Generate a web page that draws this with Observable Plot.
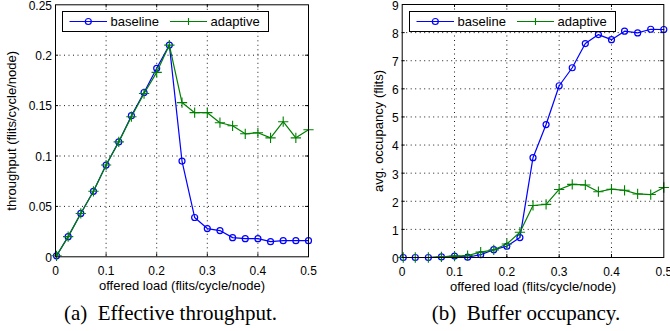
<!DOCTYPE html>
<html><head><meta charset="utf-8">
<script src="https://cdn.jsdelivr.net/npm/d3@7"></script>
<script src="https://cdn.jsdelivr.net/npm/@observablehq/plot@0.6"></script>
<style>
body{margin:0;background:#fff;}
#root{position:relative;width:670px;height:331px;overflow:hidden;background:#fff;}
.panel{position:absolute;top:0;}
.caption{position:absolute;top:302.5px;font-family:"Liberation Serif","Times New Roman",serif;font-size:21px;line-height:21px;white-space:nowrap;transform:translateX(-50%);color:#000;}
.legend{position:absolute;top:11px;}
</style></head><body><div id="root"></div>
<script>
// ---- data ----
const load = [0.002,0.025,0.05,0.075,0.1,0.125,0.15,0.175,0.2,0.225,0.25,0.275,0.3,0.325,0.35,0.375,0.4,0.425,0.45,0.475,0.5];
const thrBaseline = [0.001,0.020,0.043,0.065,0.091,0.114,0.140,0.163,0.187,0.210,0.095,0.039,0.028,0.026,0.019,0.018,0.018,0.015,0.016,0.016,0.016];
const thrAdaptive = [0.001,0.020,0.043,0.065,0.091,0.114,0.139,0.162,0.183,0.210,0.153,0.143,0.143,0.133,0.130,0.122,0.123,0.118,0.134,0.118,0.126];
const occBaseline = [0,0,0,0.02,0.05,0.01,0.10,0.28,0.40,0.71,3.55,4.73,6.11,6.75,7.61,7.93,7.75,8.05,7.99,8.12,8.11];
const occAdaptive = [0,0,0,0.02,0.05,0.07,0.19,0.27,0.48,0.90,1.85,1.89,2.42,2.60,2.58,2.34,2.43,2.39,2.26,2.24,2.49];
const xTicks = [0,0.1,0.2,0.3,0.4,0.5];
const yTicksThr = [0,0.05,0.1,0.15,0.2,0.25];
const yTicksOcc = [0,1,2,3,4,5,6,7,8,9];
const seriesNames = ["baseline","adaptive"];
const xLabel = "offered load (flits/cycle/node)";
const yLabelThr = "throughput (flits/cycle/node)";
const yLabelOcc = "avg. occupancy (flits)";
const captions = ["(a)\u2002Effective throughput.", "(b)\u2002Buffer occupancy."];

const BLUE = "#0000ff", GREEN = "#008000";

function panel(o) {
  const rows = load.map((x, i) => ({x, b: o.base[i], a: o.adap[i]}));
  const plotH = o.height - o.mt - o.mb;
  const plotW = o.width - o.ml - o.mr;
  const inner = xTicks.slice(1, -1);
  const innerY = o.yTicks.slice(1, -1);
  return Plot.plot({
    width: o.width, height: o.height,
    marginLeft: o.ml, marginRight: o.mr, marginTop: o.mt, marginBottom: o.mb,
    style: {fontFamily: '"Liberation Sans", Arial, sans-serif', fontSize: "12px", background: "transparent", color: "black", overflow: "visible"},
    x: {type: "linear", domain: [0, 0.5]},
    y: {type: "linear", domain: o.yDomain},
    marks: [
      Plot.gridX(inner, {stroke: "black", strokeOpacity: 1, strokeWidth: 0.9, strokeDasharray: "1,3.5"}),
      Plot.gridY(innerY, {stroke: "black", strokeOpacity: 1, strokeWidth: 0.9, strokeDasharray: "1,3.5"}),
      Plot.ruleX(inner, {insetTop: plotH - 3, stroke: "black"}),
      Plot.ruleX(inner, {insetBottom: plotH - 3, stroke: "black"}),
      Plot.ruleY(innerY, {insetRight: plotW - 3, stroke: "black"}),
      Plot.ruleY(innerY, {insetLeft: plotW - 3, stroke: "black"}),
      Plot.axisX(xTicks, {tickSize: 0, tickPadding: 9.5, fontSize: 12, label: null, tickFormat: d => String(d)}),
      Plot.axisY(o.yTicks, {tickSize: 0, tickPadding: 3.5, dy: o.yTickDy, fontSize: 12, label: null, tickFormat: d => String(d)}),
      Plot.text([xLabel], {text: d => d, frameAnchor: "bottom", dy: o.xLabelDy, lineAnchor: "bottom", fontSize: 13}),
      Plot.text([o.yLabel], {text: d => d, frameAnchor: "left", rotate: -90, textAnchor: "middle", lineAnchor: "bottom", dx: o.yLabelDx, fontSize: 13}),
      Plot.line(rows, {x: "x", y: "b", stroke: BLUE, strokeWidth: 1.2}),
      Plot.dot(rows, {x: "x", y: "b", r: 3, stroke: BLUE, strokeWidth: 1.2, fill: "none"}),
      Plot.line(rows, {x: "x", y: "a", stroke: GREEN, strokeWidth: 1.2}),
      Plot.dot(rows, {x: "x", y: "a", r: 3.4, symbol: "plus", stroke: GREEN, strokeWidth: 1.1}),
      Plot.frame({stroke: "black", strokeWidth: 1})
    ]
  });
}

function legend() {
  const ns = "http://www.w3.org/2000/svg";
  const svg = document.createElementNS(ns, "svg");
  svg.setAttribute("width", 207); svg.setAttribute("height", 21);
  svg.innerHTML = `
    <rect x="0.5" y="0.5" width="206" height="20" fill="white" stroke="black" stroke-width="1"/>
    <line x1="7.5" x2="45" y1="10.5" y2="10.5" stroke="${BLUE}" stroke-width="1.2"/>
    <circle cx="26.3" cy="10.5" r="3" fill="none" stroke="${BLUE}" stroke-width="1.2"/>
    <text x="48.5" y="15.3" font-family="Liberation Sans, Arial, sans-serif" font-size="13">${seriesNames[0]}</text>
    <line x1="108" x2="145" y1="10.5" y2="10.5" stroke="${GREEN}" stroke-width="1.2"/>
    <path d="M123.1,10.5h6.8M126.5,7.1v6.8" stroke="${GREEN}" stroke-width="1.1"/>
    <text x="148.5" y="15.3" font-family="Liberation Sans, Arial, sans-serif" font-size="13">${seriesNames[1]}</text>`;
  return svg;
}

const root = document.getElementById("root");
const left = panel({width: 335, height: 300, ml: 55, mr: 27, mt: 4.3, mb: 43.7, yDomain: [0, 0.25], yTicks: yTicksThr,
  base: thrBaseline, adap: thrAdaptive, yLabel: yLabelThr, xLabelDy: 33.3, yLabelDx: -39.5, yTickDy: 1});
left.classList.add("panel"); left.style.left = "0px"; left.style.position = "absolute";
root.appendChild(left);
const right = panel({width: 335, height: 300, ml: 66.7, mr: 6.7, mt: 4, mb: 43, yDomain: [0, 9], yTicks: yTicksOcc,
  base: occBaseline, adap: occAdaptive, yLabel: yLabelOcc, xLabelDy: 33.5, yLabelDx: -19.4, yTickDy: 1.6});
right.classList.add("panel"); right.style.left = "335px"; right.style.position = "absolute";
root.appendChild(right);

const lg1 = legend(); lg1.classList.add("legend"); lg1.style.left = "62px"; root.appendChild(lg1);
const lg2 = legend(); lg2.classList.add("legend"); lg2.style.left = "409px"; root.appendChild(lg2);

[[170.5, captions[0]], [526, captions[1]]].forEach(([cx, t]) => {
  const d = document.createElement("div");
  d.className = "caption"; d.style.left = cx + "px"; d.textContent = t;
  root.appendChild(d);
});
</script>
</body></html>
